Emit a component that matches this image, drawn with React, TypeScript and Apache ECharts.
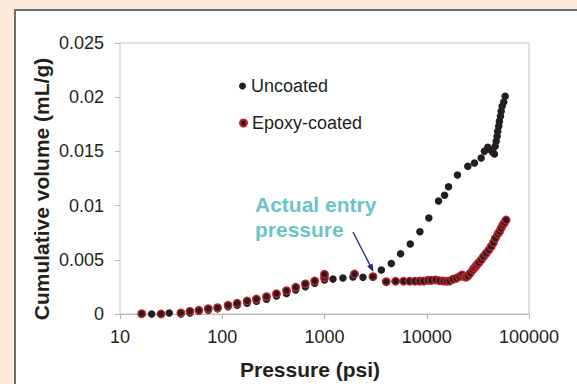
import React, { useEffect, useRef } from "react";
import * as echarts from "echarts";

const uncoatedPressure = [
  16.3, 20.4, 25.2, 30.3, 39.4, 48.3, 59.1, 73, 90, 114, 140, 175, 216, 271, 339, 425, 523, 650, 802, 1000,
  1211, 1514, 1898, 2377, 2977, 3597, 4500, 5546, 6900, 8570, 10480, 13040, 14930, 16330, 19970, 25200,
  29300, 34060, 36650, 39520, 41990, 44230, 45930, 46680, 47760, 48800, 49440, 50560, 51360, 52570, 53430,
  54600, 56620, 58450,
];
const uncoatedVolume = [
  0, 0, 0, 0.0001, 0, 0.0001, 0.00025, 0.00034, 0.00049, 0.00067, 0.0008, 0.00099, 0.00117, 0.00136, 0.00166,
  0.0019, 0.00221, 0.00252, 0.00283, 0.00314, 0.00322, 0.00332, 0.00342, 0.00339, 0.00344, 0.00406, 0.00466,
  0.00556, 0.00646, 0.00759, 0.00886, 0.01042, 0.01095, 0.01174, 0.01282, 0.01363, 0.01393, 0.01439, 0.01501,
  0.01538, 0.01516, 0.01492, 0.01476, 0.01547, 0.01593, 0.01639, 0.01685, 0.01732, 0.01778, 0.01824, 0.0187,
  0.01916, 0.01956, 0.02008,
];

const epoxyPressure = [
  16.3, 25.2, 39.4, 48.3, 59.1, 73, 90, 114, 140, 175, 216, 271, 339, 425, 523, 650, 802, 1000, 1000, 1966,
  2977, 4018, 4958, 5935, 6790, 7650, 8510, 9310, 10260, 11070, 12190, 13340, 14590, 15730, 16700, 18000,
  19410, 20920, 22210, 23390, 24300, 25200, 26600, 28200, 29300, 30400, 31300, 32300, 34000, 35900, 38100,
  40400, 42600, 44900, 46900, 49500, 51400, 53400, 55400, 57500, 59700,
];
const epoxyVolume = [
  0.00003, 0, 0.0001, 0.00025, 0.00034, 0.00049, 0.00058, 0.0008, 0.00099, 0.0012, 0.00138, 0.0016, 0.00187,
  0.00215, 0.00246, 0.00277, 0.00304, 0.00335, 0.00366, 0.00369, 0.00344, 0.00298, 0.00302, 0.00302, 0.00302,
  0.00302, 0.00304, 0.00304, 0.00311, 0.00311, 0.00314, 0.00307, 0.00304, 0.00302, 0.00304, 0.0032, 0.00329,
  0.00344, 0.0036, 0.00344, 0.00339, 0.0035, 0.00375, 0.00406, 0.00425, 0.00443, 0.00458, 0.00473, 0.00498,
  0.00529, 0.0056, 0.0059, 0.00621, 0.00658, 0.00698, 0.00738, 0.00759, 0.0079, 0.00821, 0.00842, 0.00867,
];

const seriesNames = ["Uncoated", "Epoxy-coated"];
const yTickLabels = ["0", "0.005", "0.01", "0.015", "0.02", "0.025"];
const xTickLabels = ["10", "100", "1000", "10000", "100000"];
const xTitle = "Pressure (psi)";
const yTitle = "Cumulative volume (mL/g)";
const annotation = "Actual entry\npressure";

const FONT = "'Liberation Sans', Arial, sans-serif";

export default function App() {
  const ref = useRef<HTMLDivElement>(null);

  useEffect(() => {
    if (!ref.current) return;
    const chart = echarts.init(ref.current, undefined, { renderer: "svg" });
    const uncoated = uncoatedPressure.map((p, i) => [p, uncoatedVolume[i]]);
    const epoxy = epoxyPressure.map((p, i) => [p, epoxyVolume[i]]);

    // arrow geometry
    const x1 = 353, y1 = 232, x2 = 373.5, y2 = 272;
    const dx = x2 - x1, dy = y2 - y1;
    const len = Math.sqrt(dx * dx + dy * dy);
    const ux = dx / len, uy = dy / len;
    const bx = x2 - ux * 8, by = y2 - uy * 8;
    const px = -uy * 3, py = ux * 3;

    chart.setOption({
      animation: false,
      backgroundColor: "#fdeadc",
      textStyle: { fontFamily: FONT },
      grid: {
        left: 120,
        top: 43,
        width: 409,
        height: 271,
        show: true,
        backgroundColor: "#ffffff",
        borderColor: "#c4c4c4",
        borderWidth: 1,
        z: 1,
      },
      legend: [
        {
          data: [seriesNames[0]],
          left: 234,
          top: 72,
          icon: "circle",
          itemWidth: 7,
          itemHeight: 7,
          textStyle: { fontSize: 18, color: "#231f20", fontFamily: FONT },
        },
        {
          data: [seriesNames[1]],
          left: 234,
          top: 109,
          icon: "circle",
          itemWidth: 7,
          itemHeight: 7,
          textStyle: { fontSize: 18, color: "#231f20", fontFamily: FONT },
        },
      ],
      xAxis: {
        type: "log",
        logBase: 10,
        min: 10,
        max: 100000,
        axisLine: { show: true, lineStyle: { color: "#b4b4b4", width: 1 } },
        axisTick: { show: true, length: 5, inside: false, lineStyle: { color: "#b4b4b4" } },
        minorTick: { show: false },
        splitLine: { show: false },
        axisLabel: {
          fontSize: 18,
          color: "#231f20",
          margin: 14,
          fontFamily: FONT,
          formatter: (v: number) => xTickLabels[Math.round(Math.log10(v)) - 1] ?? String(v),
        },
      },
      yAxis: {
        type: "value",
        min: 0,
        max: 0.025,
        interval: 0.005,
        axisLine: { show: true, lineStyle: { color: "#b4b4b4", width: 1 } },
        axisTick: { show: true, length: 5, inside: false, lineStyle: { color: "#b4b4b4" } },
        splitLine: { show: false },
        axisLabel: {
          fontSize: 18,
          color: "#231f20",
          margin: 16,
          fontFamily: FONT,
          formatter: (v: number) => yTickLabels[Math.round(v / 0.005)] ?? String(v),
        },
      },
      series: [
        {
          name: seriesNames[0],
          type: "scatter",
          data: uncoated,
          symbol: "circle",
          symbolSize: 7.5,
          itemStyle: { color: "#231f20", opacity: 1 },
          z: 3,
        },
        {
          name: seriesNames[1],
          type: "scatter",
          data: epoxy,
          symbol: "circle",
          symbolSize: 7.5,
          itemStyle: { color: "#231f20", borderColor: "#c4202a", borderWidth: 1.4, opacity: 1 },
          z: 4,
        },
      ],
      graphic: [
        {
          type: "rect",
          z: -10,
          silent: true,
          shape: { x: 15, y: 10, width: 700, height: 500 },
          style: { fill: "#ffffff", stroke: "#6e6e6e", lineWidth: 2 },
        },
        {
          type: "text",
          z: 10,
          x: 41,
          y: 189,
          rotation: Math.PI / 2,
          style: {
            text: yTitle,
            font: `bold 21px ${FONT}`,
            fill: "#231f20",
            textAlign: "center",
            textVerticalAlign: "middle",
          },
        },
        {
          type: "text",
          z: 10,
          x: 310,
          y: 369,
          style: {
            text: xTitle,
            font: `bold 21px ${FONT}`,
            fill: "#231f20",
            textAlign: "center",
            textVerticalAlign: "middle",
          },
        },
        {
          type: "text",
          z: 10,
          x: 255,
          y: 192,
          style: {
            text: annotation,
            font: `bold 21px ${FONT}`,
            lineHeight: 25,
            fill: "#6cc3ca",
            textAlign: "left",
            textVerticalAlign: "top",
          },
        },
        {
          type: "line",
          z: 10,
          shape: { x1, y1, x2: bx, y2: by },
          style: { stroke: "#26237f", lineWidth: 1.3 },
        },
        {
          type: "polygon",
          z: 10,
          shape: { points: [[x2, y2], [bx + px, by + py], [bx - px, by - py]] },
          style: { fill: "#26237f" },
        },
      ],
    });
    return () => chart.dispose();
  }, []);

  return (
    <div
      ref={ref}
      style={{ position: "absolute", left: 0, top: 0, width: 577, height: 384 }}
    />
  );
}
